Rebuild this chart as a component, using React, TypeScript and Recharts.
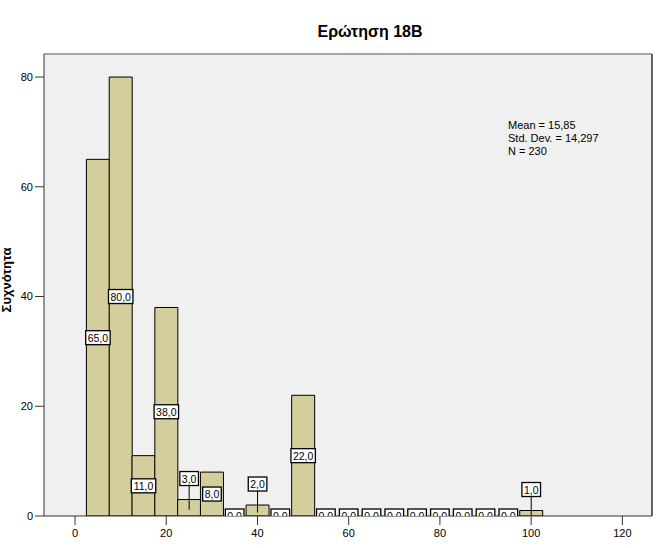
import { ComposedChart, Bar, Scatter, XAxis, YAxis, CartesianGrid, ReferenceLine, LabelList } from 'recharts';

const binCenters = [5, 10, 15, 20, 25, 30, 35, 40, 45, 50, 55, 60, 65, 70, 75, 80, 85, 90, 95, 100];
const counts = [65, 80, 11, 38, 3, 8, 0, 2, 0, 22, 0, 0, 0, 0, 0, 0, 0, 0, 0, 1];
const xTicks = [0, 20, 40, 60, 80, 100, 120];
const yTicks = [0, 20, 40, 60, 80];
const statLines = ['Mean = 15,85', 'Std. Dev. = 14,297', 'N = 230'];

const X_DOMAIN = [-6.8, 126.5];
const Y_DOMAIN = [0, 84.2];
const FONT = '"Liberation Sans", Arial, sans-serif';
const BAR_FILL = '#d3ce9c';

const data = binCenters.map((bin, i) => ({ bin, count: counts[i] }));
const emptyBins = data.filter((d) => d.count === 0);

const fmt = (v: number) => v.toFixed(1).replace('.', ',');

// rough text width for 10.5px Arial-like font
const textWidth = (s: string) =>
  s.split('').reduce((w, c) => w + (c === ',' ? 2.9 : 5.85), 0);

function Box({ cx, cy, text }: { cx: number; cy: number; text: string }) {
  const bw = textWidth(text) + 4;
  const bh = 14;
  return (
    <g>
      <rect x={cx - bw / 2} y={cy - bh / 2} width={bw} height={bh} fill="#fff" stroke="#000" strokeWidth={1.3} />
      <text x={cx} y={cy + 4} textAnchor="middle" fontSize={10.5} fontFamily={FONT} fill="#000">
        {text}
      </text>
    </g>
  );
}

function ValueLabel(props: any) {
  const vb = props.viewBox || {};
  const x = props.x ?? vb.x;
  const y = props.y ?? vb.y;
  const width = props.width ?? vb.width;
  const height = props.height ?? vb.height;
  const value = Number(props.value);
  if (x == null || y == null || !value) return null;

  const cx = x + width / 2;
  if (height >= 20) {
    return <Box cx={cx} cy={y + height / 2} text={fmt(value)} />;
  }
  // short bar: box above, with a leader line down to the bar
  const cy = y - 21;
  return (
    <g>
      <line x1={cx} y1={cy + 7} x2={cx} y2={y + height / 2 + 2} stroke="#000" strokeWidth={1} />
      <Box cx={cx} cy={cy} text={fmt(value)} />
    </g>
  );
}

// zero bins: label box sits on the baseline, half hidden below the axis
function ZeroLabel(props: any) {
  const { cx, cy, index } = props;
  if (cx == null || cy == null) return null;
  const id = `zclip-${index}`;
  return (
    <g>
      <clipPath id={id}>
        <rect x={cx - 20} y={cy - 20} width={40} height={20} />
      </clipPath>
      <g clipPath={`url(#${id})`}>
        <Box cx={cx} cy={cy} text={fmt(0)} />
      </g>
    </g>
  );
}

export default function App() {
  return (
    <div style={{ position: 'absolute', left: 0, top: 0, width: 666, height: 548, background: '#fff' }}>
      <ComposedChart
        width={666}
        height={548}
        data={data}
        margin={{ top: 54, right: 14, bottom: 0, left: 0 }}
        barCategoryGap={0}
        barGap={0}
      >
        <CartesianGrid horizontal={false} vertical={false} fill="#f0f0f0" />
        <XAxis
          type="number"
          dataKey="bin"
          domain={X_DOMAIN}
          ticks={xTicks}
          allowDataOverflow
          height={32}
          tickSize={9}
          tickMargin={4}
          axisLine={{ stroke: '#333' }}
          tickLine={{ stroke: '#333' }}
          tick={{ fill: '#000', fontSize: 11, fontFamily: FONT }}
        />
        <YAxis
          type="number"
          domain={Y_DOMAIN}
          ticks={yTicks}
          allowDataOverflow
          width={44}
          tickSize={9}
          tickMargin={2}
          axisLine={{ stroke: '#333' }}
          tickLine={{ stroke: '#333' }}
          tick={{ fill: '#000', fontSize: 11, fontFamily: FONT }}
        />
        <ReferenceLine y={Y_DOMAIN[1]} stroke="#888" strokeWidth={1.5} />
        <ReferenceLine x={X_DOMAIN[1]} stroke="#333" strokeWidth={1.5} />
        <Bar dataKey="count" fill={BAR_FILL} stroke="#000" strokeWidth={1} isAnimationActive={false}>
          <LabelList dataKey="count" content={<ValueLabel />} />
        </Bar>
        <Scatter data={emptyBins} dataKey="count" shape={<ZeroLabel />} isAnimationActive={false} />
      </ComposedChart>
      <svg width={666} height={548} style={{ position: 'absolute', left: 0, top: 0, pointerEvents: 'none' }}>
        <text x={370} y={37} textAnchor="middle" fontSize={16} fontWeight="bold" fontFamily={FONT} fill="#000">
          Ερώτηση 18B
        </text>
        <text
          x={0}
          y={0}
          transform="translate(11, 280) rotate(-90)"
          textAnchor="middle"
          fontSize={13}
          fontWeight="bold"
          fontFamily={FONT}
          fill="#000"
        >
          Συχνότητα
        </text>
        {statLines.map((line, i) => (
          <text key={line} x={508} y={129 + i * 13} fontSize={11} fontFamily={FONT} fill="#000">
            {line}
          </text>
        ))}
      </svg>
    </div>
  );
}
